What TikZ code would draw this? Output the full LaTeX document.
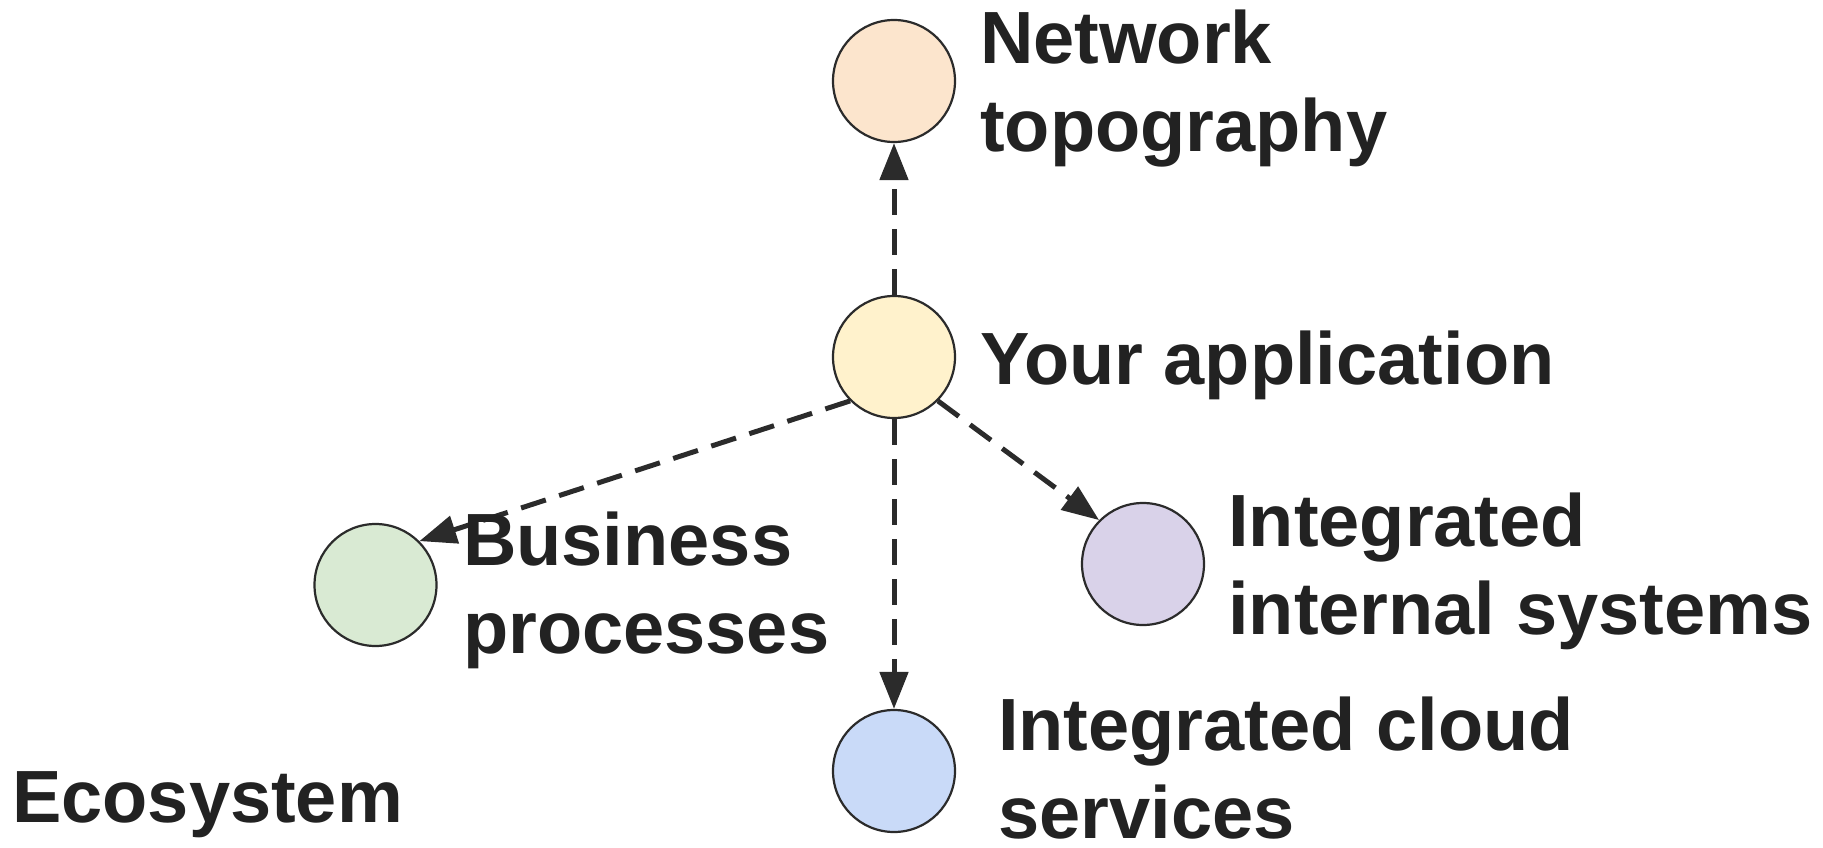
\documentclass[tikz,border=0pt]{standalone}
\usepackage{fontspec}
\setmainfont{Liberation Sans}
\usetikzlibrary{arrows.meta}
\definecolor{ink}{HTML}{222222}
\definecolor{edgeink}{HTML}{2B2B2B}
\definecolor{netfill}{HTML}{FCE5CD}
\definecolor{appfill}{HTML}{FFF2CC}
\definecolor{bizfill}{HTML}{D9EAD3}
\definecolor{intfill}{HTML}{D9D2E9}
\definecolor{cloudfill}{HTML}{C9DAF8}
\begin{document}
\begin{tikzpicture}[x=1pt,y=-1pt,
  hub/.style={circle, draw=edgeink, line width=2.2pt, minimum size=122pt, inner sep=0pt},
  link/.style={draw=edgeink, line width=5pt, dash pattern=on 26pt off 14pt,
    -{Triangle[length=37pt,width=28pt]}},
  caption/.style={font=\fontsize{74}{88}\selectfont\bfseries, text=ink,
    align=left, inner sep=0pt, anchor=base west}]
\useasboundingbox (0,0) rectangle (1823,848);

% circles
\node[hub, fill=netfill]   (net)   at (894,81)   {};
\node[hub, fill=appfill]   (app)   at (894,357)  {};
\node[hub, fill=bizfill]   (biz)   at (375.5,585) {};
\node[hub, fill=intfill]   (int)   at (1143,564) {};
\node[hub, fill=cloudfill] (cloud) at (894,771)  {};

% dashed connectors
\draw[link] (app.north) -- (net.south);
\draw[link] (app.225) -- (biz.45);
\draw[link] (app.315) -- (int.135);
\draw[link] (app.south) -- (cloud.north);

% labels (anchored on the baseline of their last line)
\node[caption] (netlbl)   at (980,151)  {Network\\topography};
\node[caption] (applbl)   at (980,384)  {Your application};
\node[caption] (bizlbl)   at (463,653)  {Business\\processes};
\node[caption] (intlbl)   at (1228,634) {Integrated\\internal systems};
\node[caption] (cloudlbl) at (998,838)  {Integrated cloud\\services};
\node[caption] (ecolbl)   at (12,822)   {Ecosystem};
\end{tikzpicture}
\end{document}
